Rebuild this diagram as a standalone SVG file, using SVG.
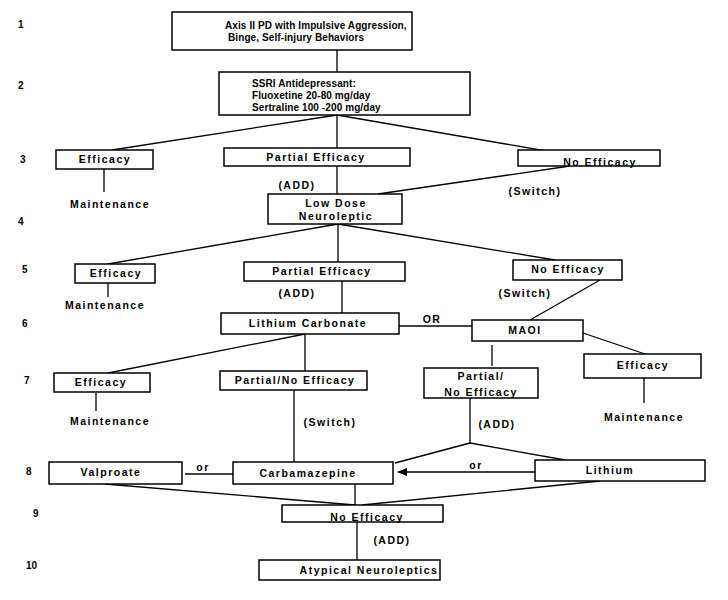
<svg xmlns="http://www.w3.org/2000/svg" width="728" height="600" viewBox="0 0 728 600">
<style>
  .box { fill: #fff; stroke: #000; stroke-width: 1.5; }
  .t { font-family: "Liberation Sans", Arial, sans-serif; font-size: 10.5px; font-weight: bold; fill: #000; text-anchor: middle; letter-spacing: 1.5px; }
  .l { text-anchor: start; font-size: 10px; letter-spacing: 0.1px; }
  .n { font-family: "Liberation Sans", Arial, sans-serif; font-size: 10px; font-weight: bold; fill: #000; }
  .c { stroke: #000; stroke-width: 1.3; fill: none; }
</style>
<defs>
  <marker id="ah" markerWidth="10" markerHeight="8" refX="9" refY="4" orient="auto" markerUnits="userSpaceOnUse">
    <path d="M0,0 L10,4 L0,8 Z" fill="#000"/>
  </marker>
</defs>
<rect width="728" height="600" fill="#fff"/>
<g id="rownums">
  <text class="n" x="18" y="28">1</text>
  <text class="n" x="18" y="89">2</text>
  <text class="n" x="20" y="163">3</text>
  <text class="n" x="18" y="225">4</text>
  <text class="n" x="22" y="273">5</text>
  <text class="n" x="22" y="327">6</text>
  <text class="n" x="24" y="384">7</text>
  <text class="n" x="26" y="475">8</text>
  <text class="n" x="33" y="517">9</text>
  <text class="n" x="26" y="569">10</text>
</g>
<g id="connectors">
  <line class="c" x1="337" y1="50" x2="337" y2="72"/>
  <line class="c" x1="337" y1="115" x2="112" y2="150"/>
  <line class="c" x1="337" y1="115" x2="337" y2="148"/>
  <line class="c" x1="337" y1="115" x2="552" y2="152"/>
  <line class="c" x1="104" y1="169" x2="104" y2="192"/>
  <line class="c" x1="337" y1="166" x2="337" y2="194"/>
  <line class="c" x1="570" y1="166" x2="378" y2="194"/>
  <line class="c" x1="338" y1="224" x2="108" y2="264"/>
  <line class="c" x1="338" y1="224" x2="338" y2="262"/>
  <line class="c" x1="338" y1="224" x2="555" y2="260"/>
  <line class="c" x1="108" y1="283" x2="108" y2="297"/>
  <line class="c" x1="342" y1="281" x2="342" y2="313"/>
  <line class="c" x1="600" y1="280" x2="530" y2="320"/>
  <line class="c" x1="399" y1="326" x2="472" y2="326"/>
  <line class="c" x1="305" y1="334" x2="108" y2="373"/>
  <line class="c" x1="305" y1="334" x2="305" y2="371"/>
  <line class="c" x1="492" y1="345" x2="492" y2="366"/>
  <line class="c" x1="583" y1="333" x2="645" y2="354"/>
  <line class="c" x1="96" y1="393" x2="96" y2="411"/>
  <line class="c" x1="644" y1="378" x2="644" y2="403"/>
  <line class="c" x1="294" y1="390" x2="294" y2="462"/>
  <line class="c" x1="470" y1="398" x2="470" y2="443"/>
  <line class="c" x1="470" y1="443" x2="395" y2="463"/>
  <line class="c" x1="470" y1="443" x2="565" y2="460"/>
  <line class="c" x1="185" y1="474" x2="233" y2="474"/>
  <line class="c" x1="535" y1="472" x2="398" y2="472" marker-end="url(#ah)"/>
  <line class="c" x1="105" y1="484" x2="355" y2="505"/>
  <line class="c" x1="355" y1="484" x2="355" y2="505"/>
  <line class="c" x1="600" y1="481" x2="362" y2="505"/>
  <line class="c" x1="357" y1="522" x2="357" y2="560"/>
</g>
<g id="labels">
  <text class="t" x="110" y="208">Maintenance</text>
  <text class="t" x="297" y="189">(ADD)</text>
  <text class="t" x="535" y="195">(Switch)</text>
  <text class="t" x="105" y="309">Maintenance</text>
  <text class="t" x="297" y="297">(ADD)</text>
  <text class="t" x="525" y="297">(Switch)</text>
  <text class="t" x="432" y="323">OR</text>
  <text class="t" x="110" y="425">Maintenance</text>
  <text class="t" x="644" y="421">Maintenance</text>
  <text class="t" x="330" y="426">(Switch)</text>
  <text class="t" x="497" y="428">(ADD)</text>
  <text class="t" x="203" y="471">or</text>
  <text class="t" x="476" y="469">or</text>
  <text class="t" x="392" y="544">(ADD)</text>
</g>
<g id="n1"><rect class="box" x="172" y="12" width="240" height="38"/>
  <text class="t l" x="225" y="29">Axis II PD with Impulsive Aggression,</text>
  <text class="t l" x="228" y="41">Binge, Self-injury Behaviors</text></g>
<g id="n2"><rect class="box" x="219" y="72" width="251" height="43"/>
  <text class="t l" x="252" y="87">SSRI Antidepressant:</text>
  <text class="t l" x="252" y="99">Fluoxetine 20-80 mg/day</text>
  <text class="t l" x="252" y="111">Sertraline 100 -200 mg/day</text></g>
<g id="n3a"><rect class="box" x="56" y="150" width="97" height="19"/><text class="t" x="105" y="163">Efficacy</text></g>
<g id="n3b"><rect class="box" x="224" y="148" width="186" height="18"/><text class="t" x="316" y="161">Partial Efficacy</text></g>
<g id="n3c"><rect class="box" x="518" y="150" width="142" height="16"/><text class="t" x="600" y="166">No Efficacy</text></g>
<g id="n4"><rect class="box" x="268" y="194" width="134" height="30"/>
  <text class="t" x="336" y="207">Low Dose</text><text class="t" x="336" y="220">Neuroleptic</text></g>
<g id="n5a"><rect class="box" x="75" y="264" width="80" height="19"/><text class="t" x="116" y="277">Efficacy</text></g>
<g id="n5b"><rect class="box" x="244" y="262" width="161" height="19"/><text class="t" x="322" y="275">Partial Efficacy</text></g>
<g id="n5c"><rect class="box" x="513" y="260" width="109" height="20"/><text class="t" x="568" y="273">No Efficacy</text></g>
<g id="n6a"><rect class="box" x="221" y="313" width="178" height="21"/><text class="t" x="308" y="327">Lithium Carbonate</text></g>
<g id="n6b"><rect class="box" x="472" y="320" width="111" height="21"/><text class="t" x="525" y="334">MAOI</text></g>
<g id="n7a"><rect class="box" x="54" y="373" width="96" height="19"/><text class="t" x="101" y="386">Efficacy</text></g>
<g id="n7b"><rect class="box" x="220" y="371" width="147" height="19"/><text class="t" x="295" y="384">Partial/No Efficacy</text></g>
<g id="n7c"><rect class="box" x="424" y="368" width="114" height="30"/>
  <text class="t" x="481" y="380">Partial/</text><text class="t" x="481" y="396">No Efficacy</text></g>
<g id="n7d"><rect class="box" x="584" y="354" width="117" height="24"/><text class="t" x="643" y="369">Efficacy</text></g>
<g id="n8a"><rect class="box" x="49" y="462" width="133" height="22"/><text class="t" x="111" y="476">Valproate</text></g>
<g id="n8b"><rect class="box" x="233" y="462" width="160" height="22"/><text class="t" x="308" y="477">Carbamazepine</text></g>
<g id="n8c"><rect class="box" x="535" y="460" width="170" height="21"/><text class="t" x="610" y="474">Lithium</text></g>
<g id="n9"><rect class="box" x="282" y="505" width="161" height="17"/><text class="t" x="367" y="521">No Efficacy</text></g>
<g id="n10"><rect class="box" x="259" y="560" width="181" height="20"/><text class="t" x="369" y="574">Atypical Neuroleptics</text></g>
</svg>
